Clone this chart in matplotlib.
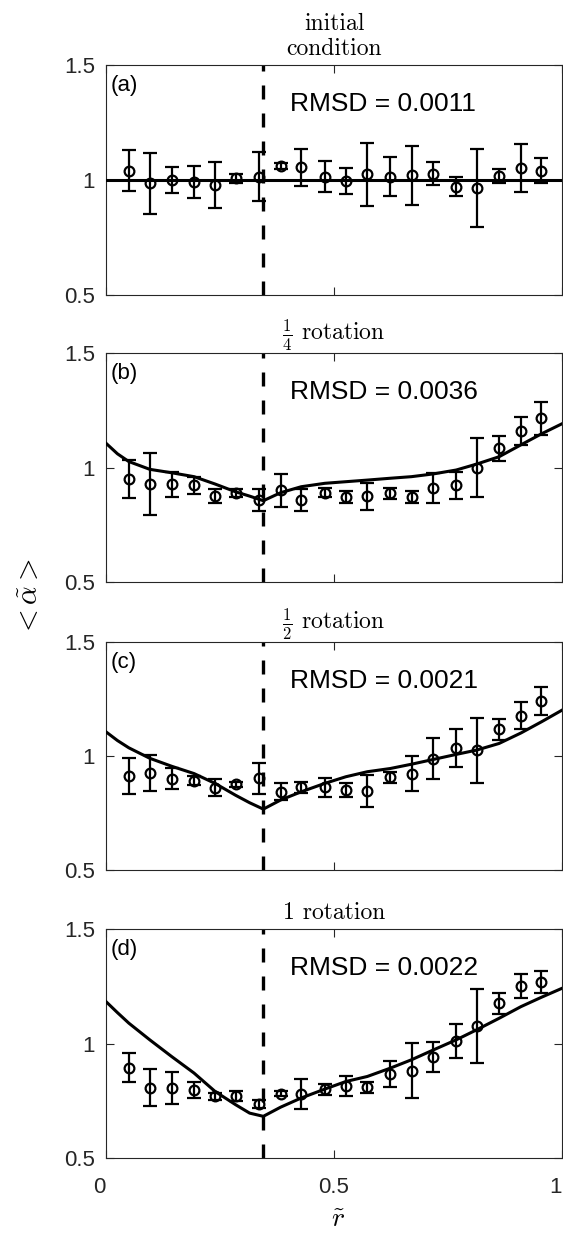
import matplotlib

matplotlib.use("Agg")
import matplotlib.pyplot as plt

plt.rcParams["font.family"] = ["Liberation Sans", "DejaVu Sans"]
plt.rcParams["mathtext.fontset"] = "cm"

# radial bin centres of the measured points
r_pts = [0.050, 0.096, 0.144, 0.193, 0.239, 0.284, 0.336, 0.383, 0.428, 0.480,
         0.526, 0.573, 0.623, 0.670, 0.718, 0.768, 0.813, 0.862, 0.910, 0.955]

a_mean = [1.040, 0.985, 1.000, 0.990, 0.980, 1.007, 1.015, 1.060, 1.055, 1.015,
          0.995, 1.025, 1.015, 1.020, 1.027, 0.971, 0.965, 1.017, 1.052, 1.040]
a_err = [0.089, 0.134, 0.055, 0.069, 0.100, 0.018, 0.107, 0.013, 0.080, 0.069,
         0.056, 0.137, 0.083, 0.129, 0.050, 0.041, 0.168, 0.029, 0.103, 0.054]

b_mean = [0.948, 0.928, 0.927, 0.922, 0.875, 0.890, 0.856, 0.900, 0.858, 0.889,
          0.872, 0.874, 0.888, 0.872, 0.910, 0.923, 0.999, 1.083, 1.160, 1.215]
b_err = [0.083, 0.137, 0.055, 0.038, 0.030, 0.018, 0.048, 0.073, 0.047, 0.020,
         0.025, 0.060, 0.024, 0.027, 0.064, 0.059, 0.130, 0.053, 0.060, 0.073]

c_mean = [0.913, 0.926, 0.900, 0.892, 0.861, 0.876, 0.902, 0.843, 0.863, 0.862,
          0.851, 0.847, 0.906, 0.923, 0.988, 1.035, 1.025, 1.117, 1.177, 1.241]
c_err = [0.080, 0.080, 0.046, 0.020, 0.036, 0.011, 0.069, 0.037, 0.024, 0.042,
         0.030, 0.070, 0.025, 0.076, 0.091, 0.082, 0.143, 0.045, 0.060, 0.062]

d_mean = [0.894, 0.807, 0.805, 0.798, 0.770, 0.772, 0.736, 0.780, 0.780, 0.800,
          0.814, 0.810, 0.866, 0.882, 0.940, 1.011, 1.076, 1.175, 1.252, 1.268]
d_err = [0.064, 0.082, 0.070, 0.036, 0.016, 0.021, 0.018, 0.011, 0.065, 0.024,
         0.045, 0.024, 0.056, 0.120, 0.065, 0.075, 0.162, 0.047, 0.052, 0.049]

# model curves
r_model = [0.0, 0.025, 0.05, 0.096, 0.144, 0.193, 0.239, 0.284, 0.315, 0.345, 0.383,
           0.428, 0.48, 0.526, 0.573, 0.623, 0.67, 0.718, 0.768, 0.813, 0.862, 0.91,
           0.955, 1.0]
a_model = [1.0, 1.0, 1.0, 1.0, 1.0, 1.0, 1.0, 1.0, 1.0, 1.0, 1.0, 1.0,
           1.0, 1.0, 1.0, 1.0, 1.0, 1.0, 1.0, 1.0, 1.0, 1.0, 1.0, 1.0]
b_model = [1.106, 1.060, 1.026, 0.992, 0.977, 0.960, 0.928, 0.894, 0.875, 0.855, 0.890,
           0.916, 0.931, 0.938, 0.945, 0.953, 0.960, 0.972, 0.989, 1.015, 1.047, 1.099,
           1.147, 1.191]
c_model = [1.106, 1.068, 1.036, 0.990, 0.955, 0.923, 0.880, 0.828, 0.795, 0.767, 0.807,
           0.843, 0.880, 0.909, 0.931, 0.945, 0.964, 0.985, 1.007, 1.026, 1.055, 1.101,
           1.150, 1.201]
d_model = [1.183, 1.135, 1.089, 1.016, 0.943, 0.871, 0.791, 0.733, 0.696, 0.682, 0.722,
           0.762, 0.801, 0.834, 0.856, 0.892, 0.929, 0.972, 1.016, 1.060, 1.110, 1.161,
           1.202, 1.241]

r_boundary = 0.345

titles = ["initial\ncondition", r"$\frac{1}{4}$ rotation",
          r"$\frac{1}{2}$ rotation", "1 rotation"]
tags = ["(a)", "(b)", "(c)", "(d)"]
rmsd = [0.0011, 0.0036, 0.0021, 0.0022]
means = [a_mean, b_mean, c_mean, d_mean]
errs = [a_err, b_err, c_err, d_err]
models = [a_model, b_model, c_model, d_model]

W, H = 563, 1235
fig = plt.figure(figsize=(W / 100, H / 100), dpi=100)

# panel boxes in pixels: (top, bottom)
boxes = [(65, 295), (353, 582), (642, 870), (929, 1158)]
left, right = 106, 562
axes_color = "#262626"

for i, (top, bot) in enumerate(boxes):
    ax = fig.add_axes([left / W, 1 - bot / H, (right - left) / W, (bot - top) / H])
    ax.errorbar(r_pts, means[i], yerr=errs[i], fmt="o", mfc="none", mec="black",
                ms=7, mew=1.6, ecolor="black", elinewidth=1.6, capsize=5,
                capthick=1.6, zorder=3)
    ax.plot(r_model, models[i], color="black", lw=2.2, zorder=4)
    ax.axvline(r_boundary, color="black", lw=2.4, ls=(0, (4.2, 4.2)), zorder=2)

    ax.set_xlim(0, 1)
    ax.set_ylim(0.5, 1.5)
    ax.set_xticks([0, 0.5, 1])
    ax.set_yticks([0.5, 1, 1.5])
    ax.set_yticklabels(["0.5", "1", "1.5"])
    ax.tick_params(direction="in", top=True, right=True, length=6, width=0.8,
                   color=axes_color, labelcolor=axes_color, labelsize=16)
    ax.tick_params(axis="y", pad=8)
    ax.tick_params(axis="x", pad=14)
    for sp in ax.spines.values():
        sp.set_color(axes_color)
        sp.set_linewidth(0.8)
    if i < 3:
        ax.set_xticklabels([])
    else:
        labels = ax.set_xticklabels(["0", "0.5", "1"])
        labels[0].set_ha("right")
        labels[2].set_ha("right")

    ax.set_title(titles[i], family="cmr10", fontsize=17, pad=7)
    ax.text(0.011, 0.955, tags[i], transform=ax.transAxes, fontsize=16,
            va="top", ha="left")
    ax.text(0.4035, 0.80, f"RMSD = {rmsd[i]:.4f}", transform=ax.transAxes,
            fontsize=19, va="baseline", ha="left")

fig.text(29 / W, 1 - 598 / H, r"$<\tilde{\alpha}>$", rotation=90,
         ha="center", va="center", fontsize=21)
fig.text(338 / W, 1 - 1220 / H, r"$\tilde{r}$", ha="center", va="center",
         fontsize=20)

fig.savefig("out.png", dpi=100)
